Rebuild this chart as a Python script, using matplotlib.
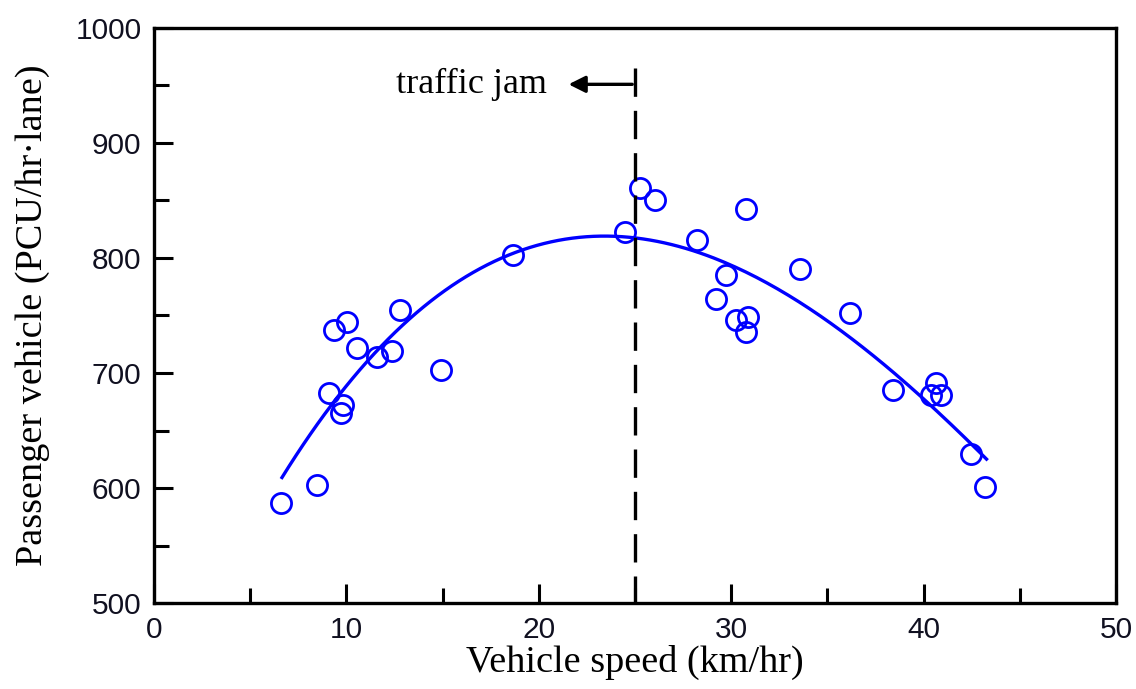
import numpy as np
import matplotlib.pyplot as plt

# observed speed / flow pairs
speed = [6.60, 8.45, 9.11, 9.35, 10.04, 9.80, 9.70, 10.53, 11.57, 12.35, 12.78, 14.91,
         18.65, 24.47, 25.28, 26.06, 30.79, 28.22, 29.75, 29.23, 30.27, 30.87, 30.79,
         33.59, 36.16, 38.41, 40.66, 40.40, 40.92, 42.48, 43.17]
flow = [587, 603, 683, 737, 744, 672, 665, 722, 714, 719, 755, 703,
        803, 823, 861, 850, 843, 816, 785, 764, 746, 749, 736,
        790, 752, 685, 691, 681, 681, 630, 601]

jam_speed = 25

blue = '#0000ff'
serif = ['Liberation Serif', 'DejaVu Serif']
sans = ['Liberation Sans', 'DejaVu Sans']

fig = plt.figure(figsize=(11.36, 6.89), dpi=100)
ax = fig.add_axes([0.1356, 0.1248, 0.8468, 0.8346])

# cubic regression through the observations
coef = np.polyfit(speed, flow, 3)
xs = np.linspace(min(speed) + 0.05, max(speed) + 0.1, 200)
ax.plot(xs, np.polyval(coef, xs), color=blue, lw=2.4)

ax.plot(speed, flow, 'o', ms=14.5, mfc='none', mec=blue, mew=2.0)

# boundary of the congested regime
ax.plot([jam_speed, jam_speed], [965, 500], color='black', lw=2.4, dashes=(8.5, 4.2))
ax.annotate('', xy=(21.4, 951), xytext=(jam_speed, 951),
            arrowprops=dict(arrowstyle='-|>', color='black', lw=2.4, mutation_scale=25))
ax.text(20.4, 951, 'traffic jam', ha='right', va='center', fontsize=26, family=serif)

ax.set_xlim(0, 50)
ax.set_ylim(500, 1000)
ax.set_xticks(range(0, 51, 10))
ax.set_xticks(range(5, 50, 10), minor=True)
ax.set_yticks(range(500, 1001, 100))
ax.set_yticks(range(550, 1000, 100), minor=True)

for s in ax.spines.values():
    s.set_linewidth(2.4)
ax.tick_params(which='both', direction='in', width=2.2, top=False, right=False,
               labelsize=21.5, labelcolor='#101020')
ax.tick_params(which='major', length=14, pad=9)
ax.tick_params(which='minor', length=11)
for lab in ax.get_xticklabels() + ax.get_yticklabels():
    lab.set_family(sans)

ax.set_xlabel('Vehicle speed (km/hr)', fontsize=27.5, family=serif, labelpad=1)
ax.set_ylabel('Passenger vehicle (PCU/hr·lane)', fontsize=27.5, family=serif, labelpad=18)

fig.savefig('out.png', dpi=100)
